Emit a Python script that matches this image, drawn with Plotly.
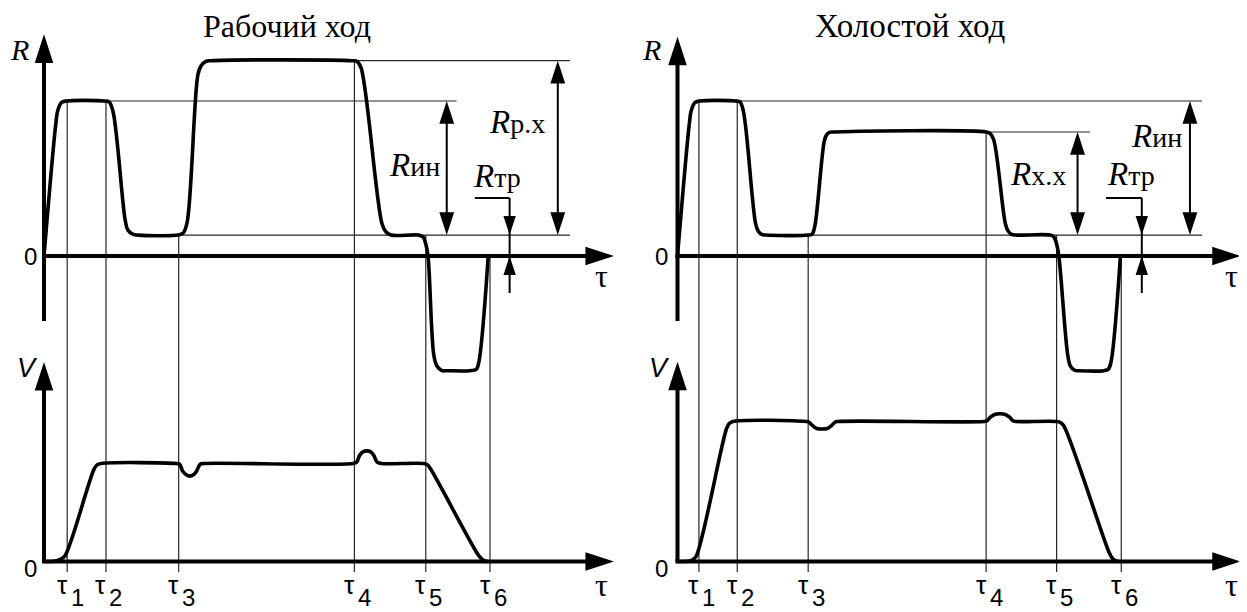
import plotly.graph_objects as go

# ================= DATA =================
TAU_NAMES = ["1", "2", "3", "4", "5", "6"]
TAU_WORK = [0.52, 1.39, 3.02, 6.96, 8.56, 10.0]
TAU_IDLE = [0.48, 1.34, 2.93, 6.92, 8.50, 9.95]

R_IN = 10.0    # inertia load
R_RX = 12.6    # working-stroke load
R_XX = 8.0     # idle-stroke load
R_TR = 1.35    # friction load

WORK_R_T = [0, 0.26, 0.31, 0.39, 0.50, 1.35, 1.46, 1.55, 1.82, 1.88, 2.00, 2.11,
            3.00, 3.12, 3.21, 3.45, 3.52, 3.63, 3.74, 6.91, 7.02, 7.11, 7.58, 7.67,
            7.78, 8.39, 8.50, 8.56, 8.61, 8.74, 8.81, 8.92, 9.04, 9.55, 9.69, 9.75, 9.96]
WORK_R = [0, 8.4, 9.4, 9.9, 10.0, 10.0, 9.94, 9.29, 2.32, 1.68, 1.39, 1.35,
          1.35, 1.48, 2.19, 11.68, 12.26, 12.55, 12.6, 12.6, 12.55, 12.13, 2.06, 1.55,
          1.35, 1.35, 1.23, 0.77, 0, -6.39, -7.10, -7.39, -7.4, -7.4, -7.32, -6.84, 0]

WORK_V_T = [0, 0.25, 0.38, 0.47, 1.12, 1.19, 1.28, 2.96, 3.04, 3.11, 3.19, 3.27, 3.35,
            3.42, 3.50, 3.58, 6.93, 7.01, 7.08, 7.16, 7.24, 7.32, 7.39, 7.47, 7.57,
            8.52, 8.60, 8.67, 9.72, 9.80, 9.88, 9.96]
WORK_V = [0, 0.04, 0.18, 0.40, 6.58, 6.9, 7.0, 7.0, 6.95, 6.45, 6.2, 6.1, 6.2,
          6.45, 6.95, 7.0, 7.0, 7.1, 7.6, 7.85, 7.9, 7.85, 7.6, 7.1, 7.0,
          7.0, 6.9, 6.6, 0.55, 0.22, 0.05, 0]

IDLE_R_T = [0, 0.26, 0.31, 0.39, 0.50, 1.31, 1.40, 1.48, 1.75, 1.81, 1.89, 1.98,
            2.93, 3.02, 3.08, 3.29, 3.34, 3.41, 3.50, 6.92, 7.01, 7.09, 7.35, 7.41,
            7.49, 7.58, 8.35, 8.44, 8.50, 8.55, 8.75, 8.81, 8.91, 9.00, 9.56, 9.66, 9.72, 9.93]
IDLE_R = [0, 8.4, 9.4, 9.9, 10.0, 10.0, 9.94, 9.3, 2.1, 1.6, 1.39, 1.35,
          1.35, 1.42, 1.94, 7.4, 7.8, 7.97, 8.0, 8.0, 7.9, 7.5, 2.1, 1.62,
          1.40, 1.35, 1.35, 1.23, 0.77, 0, -6.4, -7.1, -7.38, -7.4, -7.4, -7.3, -6.84, 0]

IDLE_V_T = [0, 0.26, 0.34, 0.42, 1.10, 1.16, 1.24, 2.88, 2.95, 3.02, 3.12, 3.24, 3.36,
            3.46, 3.53, 3.60, 6.87, 6.94, 7.01, 7.11, 7.23, 7.35, 7.45, 7.52, 7.59,
            8.51, 8.59, 8.66, 9.67, 9.74, 9.81, 9.90]
IDLE_V = [0, 0.03, 0.13, 0.38, 9.5, 9.85, 10.0, 10.0, 9.95, 9.72, 9.5, 9.46, 9.5,
          9.72, 9.95, 10.0, 10.0, 10.05, 10.3, 10.5, 10.55, 10.5, 10.3, 10.05, 10.0,
          10.0, 9.92, 9.7, 0.7, 0.28, 0.07, 0]

TITLE_WORK = "Рабочий ход"
TITLE_IDLE = "Холостой ход"

# ================= LAYOUT GEOMETRY =================
W, H = 1247, 612
OFF = 8                                   # page body margin the figure sits in
PX_T, PX_R, PX_V = 44.6, 15.5, 14.0       # pixels per unit
LEFT_X0, RIGHT_X0 = 44.0, 677.5           # page x of the panel origins
R_ZERO_Y, V_ZERO_Y = 256.0, 561.5         # page y of the zero lines
SPLIT = 623.5                             # page x of the panel split

SERIF = "Liberation Serif, Times New Roman, serif"
SANS = "Liberation Sans, Arial, sans-serif"
THIN = dict(color="#262626", width=1.2)
THICK = dict(color="black", width=3.6)
AXIS = dict(color="black", width=4)
DIM = dict(color="black", width=2)


def sub(s):
    return "<span style='font-size:28px'>" + s + "</span>"


fig = go.Figure()


def lines(xs, ys, xa, ya, style, spline=False):
    ln = dict(style)
    if spline:
        ln.update(shape="spline", smoothing=1.0)
    fig.add_trace(go.Scatter(x=xs, y=ys, xaxis=xa, yaxis=ya, mode="lines",
                             line=ln, hoverinfo="skip", showlegend=False))


def heads(xs, ys, angles, size, xa, ya):
    fig.add_trace(go.Scatter(x=xs, y=ys, xaxis=xa, yaxis=ya, mode="markers",
                             marker=dict(symbol="arrow", size=size, angle=angles,
                                         color="black", line=dict(width=0)),
                             hoverinfo="skip", showlegend=False))


def text(t, x, y, xa, ya, size, family):
    fig.add_annotation(text=t, x=x, y=y, xref=xa, yref=ya, showarrow=False,
                       xanchor="center", yanchor="middle",
                       font=dict(size=size, family=family, color="black"))


def panel(p):
    xa, yr, yv = p["xa"], p["yr"], p["yv"]
    tau_bottom = (R_ZERO_Y - 572) / PX_R
    # thin time marks
    xs, ys = [], []
    for t, top in zip(p["tau"], p["tau_top"]):
        xs += [t, t, None]
        ys += [top, tau_bottom, None]
    lines(xs, ys, xa, yr, THIN)
    # thin horizontal guide lines
    xs, ys = [], []
    for a, b, lev in p["guides"]:
        xs += [a, b, None]
        ys += [lev, lev, None]
    lines(xs, ys, xa, yr, THIN)

    # axes
    tip_t, tip_r, tip_v = p["tip_t"], p["tip_r"], p["tip_v"]
    half = 2.0 / PX_T
    lines([0, 0], [(R_ZERO_Y - 321) / PX_R, tip_r - 12 / PX_R], xa, yr, AXIS)
    lines([-half, tip_t - 12 / PX_T], [0, 0], xa, yr, AXIS)
    lines([0, 0], [0, tip_v - 12 / PX_V], xa, yv, AXIS)
    lines([-half, tip_t - 12 / PX_T], [0, 0], xa, yv, AXIS)
    heads([0, tip_t], [tip_r, 0], [0, 90], 30, xa, yr)
    heads([0, tip_t], [tip_v, 0], [0, 90], 30, xa, yv)

    # curves
    lines(p["r"][0], p["r"][1], xa, yr, THICK, spline=True)
    lines(p["v"][0], p["v"][1], xa, yv, THICK, spline=True)

    # dimension arrows
    for t, lev in p["dims"]:
        lines([t, t], [R_TR + 10 / PX_R, lev - 10 / PX_R], xa, yr, DIM)
        heads([t, t], [lev, R_TR], [0, 180], 24, xa, yr)
    tf, tu = p["fric"]
    ftop, fbot = (R_ZERO_Y - 198) / PX_R, (R_ZERO_Y - 293) / PX_R
    lines([tf, tf], [ftop, fbot], xa, yr, DIM)
    lines([tu, tf], [ftop, ftop], xa, yr, DIM)
    heads([tf, tf], [R_TR, 0], [180, 0], 20, xa, yr)

    # texts
    text(p["title"], p["title_t"], 14.87, xa, yr, p["title_size"], SERIF)
    text("<i>R</i>", p["rlab_t"], 13.35, xa, yr, 30, SERIF)
    text("0", -0.30 - p["zero_shift"], -0.05, xa, yr, 24, SANS)
    text("0", -0.30 - p["zero_shift"], -0.5, xa, yv, 24, SANS)
    text("<i>V</i>", p["vlab_t"], 13.8, xa, yv, 27, SANS)
    text("τ", p["tau_end_t"], -1.26, xa, yr, 32, SERIF)
    text("τ", p["tau_end_t"], -1.66, xa, yv, 32, SERIF)
    for t, name in zip(p["tau"], TAU_NAMES):
        text("τ", t - 5 / PX_T, -1.66, xa, yv, 26, SANS)
        text(name, t + 10 / PX_T, -2.58, xa, yv, 24, SANS)
    for s, x, y in p["labels"]:
        text(s, x, y, xa, yr, 33, SERIF)


panel(dict(
    xa="x", yr="y", yv="y2", tau=TAU_WORK,
    tau_top=[R_IN, R_IN, R_TR, R_RX, R_TR, 0],
    r=(WORK_R_T, WORK_R), v=(WORK_V_T, WORK_V),
    guides=[(1.45, 9.25, R_IN), (6.96, 11.79, R_RX), (3.00, 11.79, R_TR)],
    dims=[(9.03, R_IN), (11.52, R_RX)],
    fric=(10.44, 9.66),
    tip_t=12.78, tip_r=14.3, tip_v=14.25,
    title=TITLE_WORK, title_t=5.45, title_size=32, rlab_t=-0.54, vlab_t=-0.38,
    zero_shift=0.0, tau_end_t=12.49,
    labels=[("<i>R</i>" + sub("ин"), 8.30, 5.88),
            ("<i>R</i>" + sub("р.х"), 10.61, 8.66),
            ("<i>R</i>" + sub("тр"), 10.15, 5.17)],
))

panel(dict(
    xa="x2", yr="y3", yv="y4", tau=TAU_IDLE,
    tau_top=[R_IN, R_IN, R_TR, R_XX, R_TR, 0],
    r=(IDLE_R_T, IDLE_R), v=(IDLE_V_T, IDLE_V),
    guides=[(1.31, 11.76, R_IN), (6.92, 9.25, R_XX), (2.93, 11.76, R_TR)],
    dims=[(8.97, R_XX), (11.49, R_IN)],
    fric=(10.41, 9.61),
    tip_t=12.63, tip_r=14.15, tip_v=14.27,
    title=TITLE_IDLE, title_t=5.21, title_size=33, rlab_t=-0.59, vlab_t=-0.41,
    zero_shift=0.05, tau_end_t=12.43,
    labels=[("<i>R</i>" + sub("х.х"), 8.09, 5.30),
            ("<i>R</i>" + sub("ин"), 10.75, 7.75),
            ("<i>R</i>" + sub("тр"), 10.16, 5.30)],
))

# figure pixel p sits at page pixel p + OFF
r_range = [(R_ZERO_Y - (H + OFF)) / PX_R, (R_ZERO_Y - OFF) / PX_R]
v_range = [(V_ZERO_Y - (H + OFF)) / PX_V, (V_ZERO_Y - OFF) / PX_V]
split = SPLIT - OFF
hidden = dict(visible=False, showgrid=False, zeroline=False, fixedrange=True)

fig.update_layout(
    width=W, height=H, margin=dict(l=0, r=0, t=0, b=0),
    paper_bgcolor="white", plot_bgcolor="white", showlegend=False,
    xaxis=dict(domain=[0, split / W],
               range=[(OFF - LEFT_X0) / PX_T, (SPLIT - LEFT_X0) / PX_T], **hidden),
    xaxis2=dict(domain=[split / W, 1],
                range=[(SPLIT - RIGHT_X0) / PX_T, (W + OFF - RIGHT_X0) / PX_T], **hidden),
    yaxis=dict(domain=[0, 1], anchor="x", range=r_range, **hidden),
    yaxis2=dict(overlaying="y", anchor="x", range=v_range, **hidden),
    yaxis3=dict(domain=[0, 1], anchor="x2", range=r_range, **hidden),
    yaxis4=dict(overlaying="y3", anchor="x2", range=v_range, **hidden),
)

fig.write_html("out.html")
